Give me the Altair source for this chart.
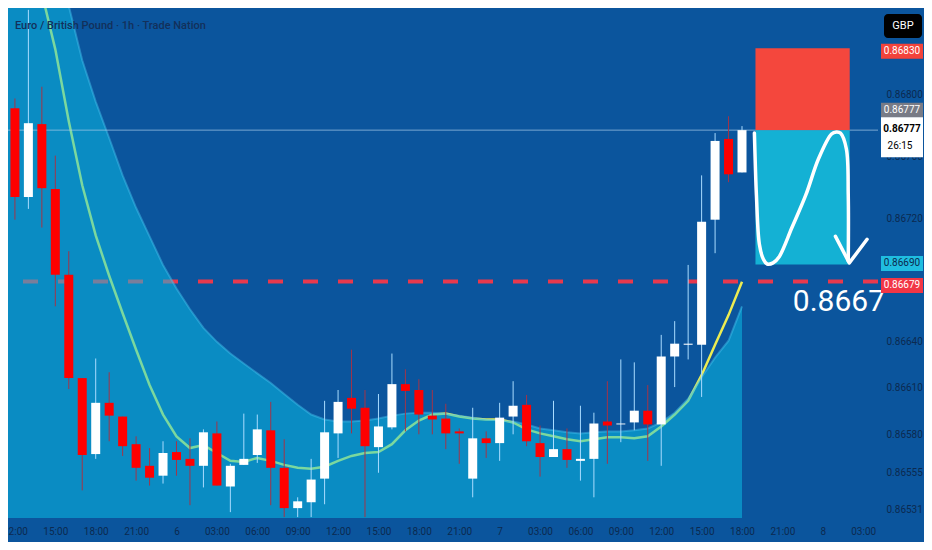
import altair as alt
import pandas as pd

# ---------------- data ----------------
# hourly candles, index 0 = day 5 12:00
opens = [0.867911, 0.867337, 0.867809, 0.867388, 0.866833, 0.866164, 0.865672, 0.866004, 0.865915, 0.865736,
         0.865596, 0.865532, 0.865685, 0.865641, 0.865596, 0.865806, 0.865462, 0.865602, 0.865666, 0.865826,
         0.865583, 0.865322, 0.865360, 0.865513, 0.865806, 0.866036, 0.865972, 0.865717, 0.865845, 0.866125,
         0.866087, 0.865921, 0.865902, 0.865819, 0.865513, 0.865774, 0.865743, 0.865915, 0.865991, 0.865743,
         0.865653, 0.865704, 0.865628, 0.865641, 0.865883, 0.865864, 0.865877, 0.865953, 0.865864, 0.866304,
         0.866380, 0.866380, 0.867190, 0.867713, 0.867496]
highs = [0.867975, 0.868549, 0.868051, 0.867605, 0.866986, 0.866164, 0.866291, 0.866202, 0.865915, 0.865787,
         0.865711, 0.865755, 0.865755, 0.865774, 0.865832, 0.865883, 0.865609, 0.865934, 0.865928, 0.866010,
         0.865768, 0.865392, 0.865641, 0.866017, 0.866087, 0.866348, 0.866087, 0.866061, 0.866323, 0.866221,
         0.866157, 0.866087, 0.865998, 0.865838, 0.865972, 0.865819, 0.866004, 0.866144, 0.866055, 0.865857,
         0.866017, 0.865838, 0.865985, 0.865940, 0.866144, 0.866285, 0.866266, 0.866119, 0.866444, 0.866533,
         0.866897, 0.867477, 0.867751, 0.867860, 0.867796]
lows = [0.867190, 0.867260, 0.867139, 0.866629, 0.866093, 0.865437, 0.865641, 0.865755, 0.865660, 0.865500,
        0.865468, 0.865481, 0.865532, 0.865341, 0.865456, 0.865468, 0.865296, 0.865602, 0.865615, 0.865341,
        0.865264, 0.865264, 0.865264, 0.865347, 0.865647, 0.865806, 0.865264, 0.865551, 0.865832, 0.865819,
        0.865800, 0.865800, 0.865704, 0.865609, 0.865392, 0.865647, 0.865628, 0.865800, 0.865723, 0.865526,
        0.865653, 0.865583, 0.865500, 0.865392, 0.865609, 0.865749, 0.865826, 0.865628, 0.865596, 0.866106,
        0.866285, 0.866042, 0.866973, 0.867433, 0.867496]
closes = [0.867337, 0.867815, 0.867394, 0.866833, 0.866164, 0.865666, 0.866004, 0.865921, 0.865723, 0.865583,
          0.865519, 0.865679, 0.865634, 0.865596, 0.865813, 0.865468, 0.865596, 0.865641, 0.865832, 0.865583,
          0.865322, 0.865366, 0.865507, 0.865813, 0.866010, 0.865966, 0.865723, 0.865851, 0.866125, 0.866081,
          0.865928, 0.865896, 0.865806, 0.865806, 0.865774, 0.865743, 0.865908, 0.865985, 0.865755, 0.865653,
          0.865704, 0.865634, 0.865641, 0.865870, 0.865857, 0.865870, 0.865953, 0.865864, 0.866304, 0.866387,
          0.866387, 0.867177, 0.867700, 0.867484, 0.867770]

# indicator series, index -1 .. 54
ind_index = list(range(-1, 55))
band_upper = [0.870984, 0.870474, 0.869964, 0.869454, 0.868976, 0.868574, 0.868223, 0.867955, 0.867719, 0.867477,
              0.867267, 0.867082, 0.866897, 0.866744, 0.866610, 0.866489, 0.866399, 0.866323, 0.866259, 0.866195,
              0.866132, 0.866061, 0.865991, 0.865928, 0.865896, 0.865883, 0.865883, 0.865889, 0.865902, 0.865921,
              0.865934, 0.865940, 0.865940, 0.865934, 0.865921, 0.865908, 0.865896, 0.865889, 0.865883, 0.865864,
              0.865838, 0.865826, 0.865813, 0.865806, 0.865813, 0.865819, 0.865819, 0.865826, 0.865838, 0.865877,
              0.865940, 0.866030, 0.866170, 0.866297, 0.866406, 0.866629]
ema = [0.870219, 0.869645, 0.869071, 0.868657, 0.868293, 0.867828, 0.867413, 0.867088, 0.866827, 0.866584,
       0.866348, 0.866119, 0.865928, 0.865787, 0.865711, 0.865730, 0.865679, 0.865628, 0.865621, 0.865647,
       0.865628, 0.865602, 0.865583, 0.865577, 0.865590, 0.865628, 0.865660, 0.865679, 0.865685, 0.865736,
       0.865826, 0.865889, 0.865928, 0.865934, 0.865915, 0.865902, 0.865896, 0.865896, 0.865877, 0.865832,
       0.865806, 0.865787, 0.865768, 0.865755, 0.865768, 0.865781, 0.865781, 0.865774, 0.865787, 0.865851,
       0.865928, 0.866017, 0.866183, 0.866380, 0.866572, 0.866788]

current_price = 0.86777
entry_level = 0.86679
stop_level = 0.86830
target_level = 0.86690
zone_start, zone_end = 55, 62

# drawn wave arrow (time index, price)
wave_i = [54.92, 54.99, 55.07, 55.29, 55.58, 55.87, 56.31, 56.75, 57.71, 58.74, 59.69, 60.65, 61.01, 61.31,
          61.75, 61.89, 61.89]
wave_p = [0.867751, 0.867541, 0.867350, 0.867031, 0.866935, 0.866903, 0.866910, 0.866948, 0.867139, 0.867350,
          0.867586, 0.867745, 0.867758, 0.867751, 0.867649, 0.867350, 0.866922]
head_i = [60.94, 61.97, 63.29]
head_p = [0.867082, 0.866910, 0.867063]

x_tick_values = list(range(0, 64, 3))
x_tick_labels = ["12:00", "15:00", "18:00", "21:00", "6", "03:00", "06:00", "09:00", "12:00", "15:00", "18:00",
                 "21:00", "7", "03:00", "06:00", "09:00", "12:00", "15:00", "18:00", "21:00", "8", "03:00"]
y_tick_values = [0.86531, 0.86555, 0.8658, 0.8661, 0.8664, 0.8672, 0.8676, 0.868]

title_text = "Euro / British Pound · 1h · Trade Nation"
big_label = "0.8667"

# price boxes on the scale: (text, price, vertical shift, fill, text colour)
box_texts = ["0.86830", "0.86777", "0.86690", "0.86679"]
box_prices = [0.86830, 0.86777, 0.86690, 0.86679]
box_shift = [3, -20, -1, 4]
box_fill = ["#f2433b", "#787b86", "#1fbde0", "#f23645"]
box_text_col = ["#ffffff", "#ffffff", "#0b2a4e", "#ffffff"]

# ---------------- layout ----------------
W, H = 870, 510
X_MIN, X_MAX = -0.514, 64.1
Y_MIN, Y_MAX = 0.865258, 0.868561
FONT = "Roboto"
BG = "#0b559d"
AXIS_TEXT = "#0c2a50"

xs = alt.Scale(domain=[X_MIN, X_MAX], nice=False, zero=False, padding=0)
ys = alt.Scale(domain=[Y_MIN, Y_MAX], nice=False, zero=False, padding=0)

label_expr = "[" + ",".join("'%s'" % t for t in x_tick_labels) + "][round(datum.value/3)]"

x_axis = alt.Axis(values=x_tick_values, labelExpr=label_expr, title=None, domain=False, ticks=False,
                  grid=False, labelColor=AXIS_TEXT, labelFont=FONT, labelFontSize=10, labelPadding=8,
                  labelFlush=False, labelOverlap=False, labelBound=False)
y_axis = alt.Axis(orient="right", values=y_tick_values, format=".5f", title=None, domain=False, ticks=False,
                  grid=False, labelColor=AXIS_TEXT, labelFont=FONT, labelFontSize=10, labelAlign="left",
                  labelPadding=8, labelOverlap=False, labelBound=False, labelFlush=False)

candles = pd.DataFrame({"i": list(range(len(opens))), "open": opens, "high": highs, "low": lows, "close": closes})
ind = pd.DataFrame({"i": ind_index, "upper": band_upper, "ema": ema})


def X(field="i"):
    return alt.X(field + ":Q", scale=xs, axis=x_axis)


def Y(field):
    return alt.Y(field + ":Q", scale=ys, axis=y_axis)


area = alt.Chart(ind).mark_area(color="#09c3e9", opacity=0.5, clip=True).encode(
    x=X(), y=Y("upper"), y2=alt.datum(Y_MIN))

dash = alt.Chart(pd.DataFrame({"p": [entry_level]})).mark_rule(
    color="#e8394d", strokeWidth=4, strokeDash=[15, 20]).encode(y=Y("p"))

ema_line = alt.Chart(ind).mark_line(color="#ecec52", strokeWidth=2.5, clip=True).encode(x=X(), y=Y("ema"))

edge_line = alt.Chart(ind).mark_line(color="#46c4f0", strokeWidth=2, opacity=0.45, clip=True).encode(
    x=X(), y=Y("upper"))

price_line = alt.Chart(pd.DataFrame({"p": [current_price]})).mark_rule(
    color="#a6cbe8", strokeWidth=1, opacity=0.7).encode(y=Y("p"))

up_cond = "datum.close >= datum.open"
wicks = alt.Chart(candles).mark_rule(strokeWidth=1, clip=True).encode(
    x=X(), y=Y("low"), y2=alt.Y2("high:Q"),
    color=alt.condition(up_cond, alt.value("#a9dcff"), alt.value("#a33449")),
)
bodies = alt.Chart(candles).mark_bar(size=9, clip=True).encode(
    x=X(), y=Y("open"), y2=alt.Y2("close:Q"),
    color=alt.condition(up_cond, alt.value("#ffffff"), alt.value("#ff0000")),
)

zones = pd.DataFrame({"i0": [zone_start, zone_start], "i1": [zone_end, zone_end],
                      "p0": [current_price, target_level], "p1": [stop_level, current_price],
                      "kind": ["stop", "target"]})
zone_rects = alt.Chart(zones).mark_rect(clip=True).encode(
    x=X("i0"), x2=alt.X2("i1:Q"), y=Y("p0"), y2=alt.Y2("p1:Q"),
    color=alt.Color("kind:N", scale=alt.Scale(domain=["stop", "target"], range=["#f4473d", "#14b1d4"]),
                    legend=None),
)

wave = alt.Chart(pd.DataFrame({"o": list(range(len(wave_i))), "i": wave_i, "p": wave_p})).mark_line(
    color="#ffffff", strokeWidth=3.5, interpolate="catmull-rom", strokeCap="round", strokeJoin="round").encode(
    x=X(), y=Y("p"), order="o:Q")
head = alt.Chart(pd.DataFrame({"o": [0, 1, 2], "i": head_i, "p": head_p})).mark_line(
    color="#ffffff", strokeWidth=3.5, strokeCap="round", strokeJoin="round").encode(
    x=X(), y=Y("p"), order="o:Q")

big = alt.Chart(pd.DataFrame({"i": [61.2], "p": [0.866655], "t": [big_label]})).mark_text(
    font=FONT, fontSize=30, color="#ffffff", align="center", baseline="middle").encode(
    x=X(), y=Y("p"), text="t:N")

title = alt.Chart(pd.DataFrame({"t": [title_text]})).mark_text(
    font=FONT, fontSize=11, fontWeight=500, color="#13305a", align="left", baseline="middle").encode(
    x=alt.value(7), y=alt.value(18), text="t:N")

layers = [dash, ema_line, area, edge_line, price_line, wicks, bodies, zone_rects, wave, head, big, title]

# scale boxes
for t, p, s, f, tc in zip(box_texts, box_prices, box_shift, box_fill, box_text_col):
    d = pd.DataFrame({"p": [p], "t": [t]})
    layers.append(alt.Chart(d).mark_rect(color=f, yOffset=s - 7.5, y2Offset=s + 7.5, clip=False).encode(
        x=alt.value(W + 3), x2=alt.value(W + 45), y=Y("p"), y2=alt.Y2("p:Q")))
    layers.append(alt.Chart(d).mark_text(font=FONT, fontSize=10, color=tc, align="center",
                                         baseline="middle", dy=s, clip=False).encode(
        x=alt.value(W + 24), y=Y("p"), text="t:N"))

# current price box with countdown
cur = pd.DataFrame({"p": [current_price], "t": ["0.86777"], "c": ["26:15"]})
layers.append(alt.Chart(cur).mark_rect(color="#ffffff", yOffset=-13, y2Offset=27, clip=False).encode(
    x=alt.value(W + 3), x2=alt.value(W + 45), y=Y("p"), y2=alt.Y2("p:Q")))
layers.append(alt.Chart(cur).mark_text(font=FONT, fontSize=10, color="#000000", fontWeight="bold",
                                       align="center", baseline="middle", dy=-1).encode(
    x=alt.value(W + 24), y=Y("p"), text="t:N"))
layers.append(alt.Chart(cur).mark_text(font=FONT, fontSize=10, color="#000000", align="center",
                                       baseline="middle", dy=16).encode(
    x=alt.value(W + 22), y=Y("p"), text="c:N"))

# currency badge
gbp = pd.DataFrame({"t": ["GBP"]})
layers.append(alt.Chart(gbp).mark_rect(color="#000000", cornerRadius=4).encode(
    x=alt.value(W + 6), x2=alt.value(W + 44), y=alt.value(6), y2=alt.value(30)))
layers.append(alt.Chart(gbp).mark_text(font=FONT, fontSize=11, color="#ffffff", align="center",
                                       baseline="middle").encode(
    x=alt.value(W + 25), y=alt.value(18), text="t:N"))

chart = alt.layer(*layers).properties(
    width=W, height=H,
    autosize=alt.AutoSizeParams(type="none"),
    padding={"left": 0, "top": 0, "right": 46, "bottom": 24},
    background=BG,
).configure_view(stroke=None, fill=BG)

chart.save("out.html", embed_options={"renderer": "svg", "actions": False})
